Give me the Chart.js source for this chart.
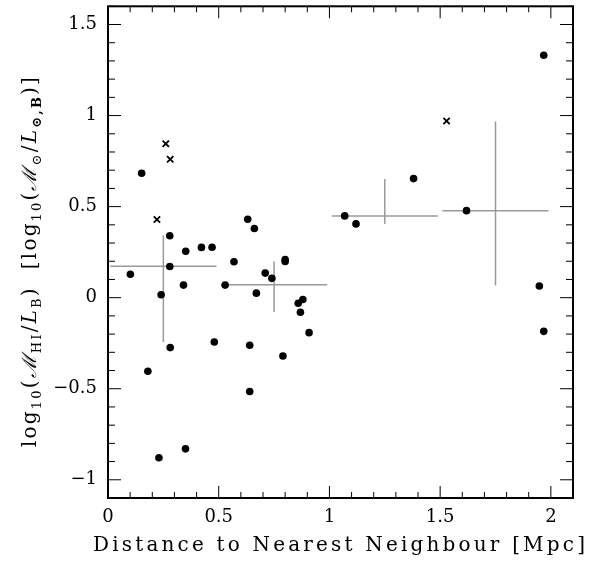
<!DOCTYPE html>
<html>
<head>
<meta charset="utf-8">
<script src="https://cdn.jsdelivr.net/npm/chart.js@4.4.1/dist/chart.umd.min.js"></script>
<style>
  html, body { margin: 0; padding: 0; background: #fff; }
</style>
</head>
<body>
<canvas id="myChart" width="590" height="568"></canvas>
<script>
// galaxies (points pleins)
const dotX = [0.101, 0.152, 0.18, 0.23, 0.24, 0.279, 0.279, 0.281, 0.341, 0.351, 0.35, 0.422, 0.47, 0.48,
  0.529, 0.569, 0.631, 0.661, 0.67, 0.64, 0.64, 0.71, 0.74, 0.79, 0.80, 0.80, 0.859, 0.88, 0.869, 0.908,
  1.069, 1.12, 1.38, 1.619, 1.948, 1.968, 1.968];
const dotY = [0.129, 0.683, -0.404, -0.879, 0.016, 0.34, 0.171, -0.274, 0.069, 0.255, -0.83, 0.276, 0.277, -0.243,
  0.069, 0.197, 0.431, 0.38, 0.025, -0.261, -0.515, 0.135, 0.106, -0.32, 0.21, 0.199, -0.031, -0.01, -0.08, -0.192,
  0.449, 0.405, 0.654, 0.478, 0.064, -0.185, 1.331];
// croix
const crossX = [0.261, 0.281, 0.221, 1.529];
const crossY = [0.845, 0.76, 0.429, 0.97];
// moyennes par intervalle (barres grises)
const binFrom = [0.01, 0.51, 1.01, 1.51];
const binTo = [0.49, 0.99, 1.49, 1.99];
const binCentre = [0.25, 0.75, 1.25, 1.75];
const binMean = [0.172, 0.071, 0.449, 0.478];
const binTop = [0.341, 0.199, 0.652, 0.968];
const binBottom = [-0.243, -0.079, 0.405, 0.067];
// ticks
const xTickValues = [0, 0.5, 1, 1.5, 2];
const yTickValues = [-1, -0.5, 0, 0.5, 1, 1.5];

const serif = '"DejaVu Serif", "Liberation Serif", serif';

// données pour chart.js
let dots = [];
for (let i = 0; i < dotX.length; i++) dots.push({ x: dotX[i], y: dotY[i] });
let crosses = [];
for (let i = 0; i < crossX.length; i++) crosses.push({ x: crossX[i], y: crossY[i] });
let horiz = [];
let vert = [];
for (let i = 0; i < binMean.length; i++) {
  horiz.push({ x: binFrom[i], y: binMean[i] });
  horiz.push({ x: binTo[i], y: binMean[i] });
  horiz.push({ x: binTo[i], y: null });
  vert.push({ x: binCentre[i], y: binBottom[i] });
  vert.push({ x: binCentre[i], y: binTop[i] });
  vert.push({ x: binCentre[i], y: null });
}

// cadre + ticks vers l'intérieur sur les 4 côtés
const cadre = {
  id: "cadre",
  afterDatasetsDraw(chart) {
    const { ctx, chartArea: a, scales } = chart;
    ctx.save();
    ctx.strokeStyle = "#000";
    ctx.lineWidth = 1;
    ctx.beginPath();
    for (let i = 0; i <= 21; i++) {
      const px = scales.x.getPixelForValue(i / 10);
      const len = i % 5 === 0 ? 12 : 6;
      ctx.moveTo(px, a.bottom); ctx.lineTo(px, a.bottom - len);
      ctx.moveTo(px, a.top); ctx.lineTo(px, a.top + len);
    }
    for (let i = -11; i <= 16; i++) {
      const py = scales.y.getPixelForValue(i / 10);
      const len = i % 5 === 0 ? 13 : 7;
      ctx.moveTo(a.left, py); ctx.lineTo(a.left + len, py);
      ctx.moveTo(a.right, py); ctx.lineTo(a.right - len, py);
    }
    ctx.stroke();
    ctx.lineWidth = 2;
    ctx.strokeRect(a.left, a.top, a.right - a.left, a.bottom - a.top);
    ctx.restore();
  },
};

// titres des axes (avec indices)
const titres = {
  id: "titres",
  afterDraw(chart) {
    const ctx = chart.ctx;
    ctx.save();
    ctx.fillStyle = "#000";
    // x
    const xt = "Distance to Nearest Neighbour [Mpc]";
    ctx.font = "20px " + serif;
    const w0 = ctx.measureText(xt).width;
    ctx.letterSpacing = ((492 - w0) / (xt.length - 1)).toFixed(2) + "px";
    ctx.textAlign = "left";
    ctx.textBaseline = "alphabetic";
    ctx.fillText(xt, 93, 551);
    ctx.letterSpacing = "0px";
    // y
    const main = "20px " + serif;
    const ital = "italic 20px " + serif;
    const sub = "13px " + serif;
    const subB = "bold 13px " + serif;
    const parts = [
      ["log", main, 0], ["10", sub, 5], ["(", main, 0], ["ℳ", ital, 0], ["HI", sub, 5],
      ["/", main, 0], ["L", ital, 0], ["B", sub, 5], [")", main, 0], ["  [log", main, 0],
      ["10", sub, 5], ["(", main, 0], ["ℳ", ital, 0], ["⊙", sub, 5], ["/", main, 0],
      ["L", ital, 0], ["⊙,B", subB, 5], [")]", main, 0],
    ];
    let total = 0;
    let nch = 0;
    for (const p of parts) {
      ctx.font = p[1];
      total += ctx.measureText(p[0]).width;
      nch += p[0].length;
    }
    const sp = (372 - total) / nch;
    ctx.translate(36, 261);
    ctx.rotate(-Math.PI / 2);
    let cx = -372 / 2;
    for (const p of parts) {
      ctx.font = p[1];
      ctx.letterSpacing = sp.toFixed(2) + "px";
      ctx.fillText(p[0], cx, p[2]);
      cx += ctx.measureText(p[0]).width;
    }
    ctx.restore();
  },
};

const graph = document.getElementById("myChart").getContext("2d");
const myChart = new Chart(graph, {
  type: "scatter",
  data: {
    datasets: [
      {
        label: "galaxies",
        data: dots,
        pointStyle: "circle",
        pointRadius: 3.8,
        backgroundColor: "#000",
        borderWidth: 0,
      },
      {
        label: "croix",
        data: crosses,
        pointStyle: "crossRot",
        pointRadius: 4.5,
        borderColor: "#000",
        borderWidth: 1.8,
      },
      {
        label: "moyenne",
        data: horiz,
        showLine: true,
        pointRadius: 0,
        borderColor: "#9a9a9a",
        borderWidth: 1.5,
      },
      {
        label: "dispersion",
        data: vert,
        showLine: true,
        pointRadius: 0,
        borderColor: "#9a9a9a",
        borderWidth: 1.5,
      },
    ],
  },
  options: {
    responsive: false,
    animation: false,
    events: [],
    layout: { padding: { top: 6, right: 17, left: 0, bottom: 0 } },
    plugins: { legend: { display: false }, tooltip: { enabled: false } },
    scales: {
      x: {
        type: "linear",
        min: 0,
        max: 2.1,
        grid: { display: false, drawTicks: false },
        border: { display: false },
        afterFit: (s) => { s.height = 70; s.paddingLeft = 0; s.paddingRight = 0; },
        afterBuildTicks: (s) => { s.ticks = xTickValues.map((v) => ({ value: v })); },
        ticks: {
          padding: 9,
          color: "#000",
          font: { family: serif, size: 18 },
          callback: (v) => String(v),
        },
      },
      y: {
        type: "linear",
        min: -1.1,
        max: 1.6,
        grid: { display: false, drawTicks: false },
        border: { display: false },
        afterFit: (s) => { s.width = 108; s.paddingTop = 0; s.paddingBottom = 0; },
        afterBuildTicks: (s) => { s.ticks = yTickValues.map((v) => ({ value: v })); },
        ticks: {
          padding: 11,
          color: "#000",
          font: { family: serif, size: 18 },
          callback: (v) => String(v).replace("-", "−"),
        },
      },
    },
  },
  plugins: [cadre, titres],
});
</script>
</body>
</html>
